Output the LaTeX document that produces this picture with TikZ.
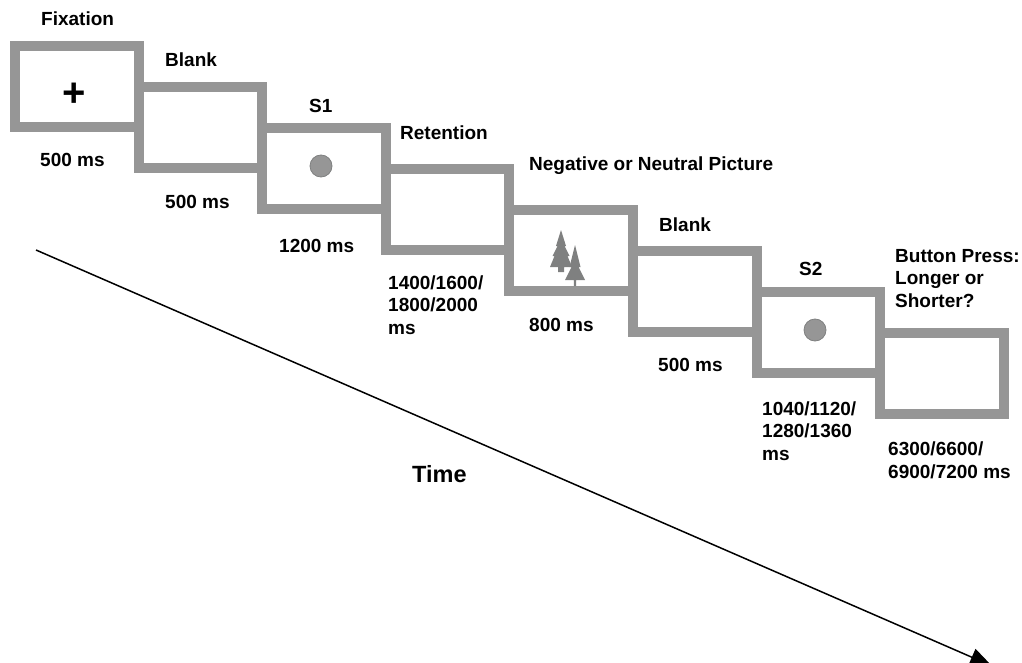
\documentclass[tikz,border=0pt]{standalone}
\usepackage{fontspec}
\setmainfont{Liberation Sans}
\usetikzlibrary{arrows.meta,positioning}

\definecolor{framegray}{HTML}{969696}
\definecolor{treegray}{HTML}{7F8080}

\tikzset{
  framebox/.style={draw=framegray, line width=10pt, minimum width=123.6pt, minimum height=81pt, inner sep=0pt},
  lab/.style={font=\fontsize{19}{22.5}\selectfont\bfseries, anchor=base west, inner sep=0pt, align=left},
  stimdot/.style={circle, fill=framegray, draw=treegray, line width=0.8pt, minimum size=22pt, inner sep=0pt},
  firbig/.pic={
    \fill[treegray] (0,0) -- (5,16) -- (3.5,16) -- (8.5,26) -- (6.5,26) -- (11,37) -- (3,37) -- (3,42)
      -- (-3,42) -- (-3,37) -- (-11,37) -- (-6.5,26) -- (-8.5,26) -- (-3.5,16) -- (-5,16) -- cycle;
  },
  firsmall/.pic={
    \fill[treegray] (0,0) -- (5.5,22) -- (3.5,22) -- (10,35) -- (1.2,35) -- (1.2,41)
      -- (-1.2,41) -- (-1.2,35) -- (-10,35) -- (-3.5,22) -- (-5.5,22) -- cycle;
  }
}

\begin{document}
\begin{tikzpicture}[x=1pt, y=-1pt]
\useasboundingbox (0,0) rectangle (1022,663);

% Frames, one step down and to the right each time
\foreach \i in {0,...,7} {
  \node[framebox] (box\i) at ({76.8+123.6*\i},{86.5+41*\i}) {};
}

% Frame contents
\node[font=\fontsize{40}{40}\selectfont\bfseries] (plus) at (box0.center) [yshift=-8.5pt, xshift=-3pt] {+};
\node[stimdot] (dotA) at (321,166) {};
\node[stimdot] (dotB) at (815,330) {};
\pic at (561,230) {firbig};
\pic at (575,245) {firsmall};

% Titles above the frames
\foreach \x/\y/\lab/\nm in {41/25.5/Fixation/tFix, 165/66.5/Blank/tBlankA, 309/113/S1/tSA, 400/140/Retention/tRet,
    529/171/Negative or Neutral Picture/tPic, 659/231/Blank/tBlankB, 799/275/S2/tSB,
    895/307/{Button Press:\\Longer or\\Shorter?}/tBtn} {
  \node[lab] (\nm) at (\x,\y) {\lab};
}

% Durations below the frames
\foreach \x/\y/\lab/\nm in {40/166.5/500 ms/dFix, 165/208/500 ms/dBlankA, 279/252/1200 ms/dSA,
    388/334/{1400/1600/\\1800/2000\\ms}/dRet, 529/331/800 ms/dPic, 658/371/500 ms/dBlankB,
    762/460/{1040/1120/\\1280/1360\\ms}/dSB, 888/478/{6300/6600/\\6900/7200 ms}/dBtn} {
  \node[lab] (\nm) at (\x,\y) {\lab};
}

% Time axis
\coordinate (tStart) at (36,250);
\coordinate (tEnd) at (992,666);
\draw[line width=1.5pt, -{Triangle[length=22pt, width=18pt]}] (tStart) -- (tEnd);
\node[font=\fontsize{23.5}{24}\selectfont\bfseries, anchor=base west, inner sep=0pt] (timeLab) at (412,482) {Time};
\end{tikzpicture}
\end{document}
